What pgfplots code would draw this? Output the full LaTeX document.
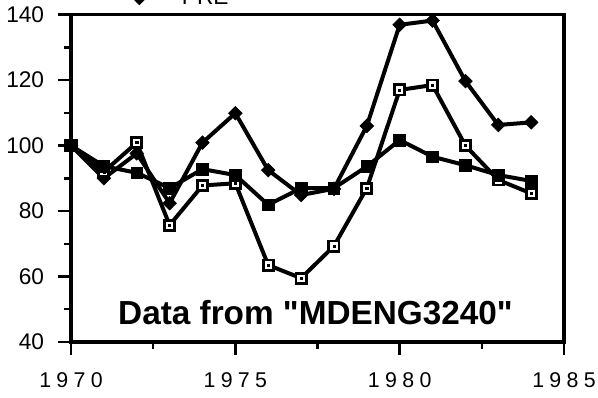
\documentclass[border=0pt]{standalone}
\usepackage{fontspec}
\setmainfont{Liberation Sans}
\usepackage{pgfplots}
\pgfplotsset{compat=1.18}
\begin{document}
\begin{tikzpicture}
\begin{axis}[
  at={(53.25pt,42pt)}, anchor=south west,
  scale only axis, width=369.75pt, height=245.5pt,
  xmin=1970, xmax=1985, ymin=40, ymax=140,
  xtick={1970,1975,1980,1985},
  xticklabels={1\hspace{4pt}9\hspace{4pt}7\hspace{4pt}0,1\hspace{4pt}9\hspace{4pt}7\hspace{4pt}5,1\hspace{4pt}9\hspace{4pt}8\hspace{4pt}0,1\hspace{4pt}9\hspace{4pt}8\hspace{4pt}5},
  minor xtick={1972.5,1977.5,1982.5},
  ytick={40,60,...,140}, minor ytick={50,70,...,130},
  xtick pos=left, ytick pos=left,
  tick align=outside,
  major tick length=10pt, minor tick length=5pt,
  tick style={black, line width=1.8pt},
  axis line style={line width=2.6pt},
  /pgf/number format/assume math mode=true,
  yticklabel style={font=\fontsize{17}{20}\selectfont, anchor=east, inner sep=0pt, xshift=-10pt},
  xticklabel style={font=\fontsize{16}{19}\selectfont, anchor=north, inner sep=0pt, yshift=-13pt},
  legend style={at={(axis description cs:0.1034,1)}, anchor=west, yshift=12.5pt, draw=none, fill=none, inner sep=0pt, font=\fontsize{17}{20}\selectfont, nodes={inner sep=0pt}, /tikz/every odd column/.append style={column sep=19pt}},
  legend image code/.code={\draw[mark repeat=2,mark phase=2] plot coordinates {(0cm,0cm)(0.4cm,0cm)(0.8cm,0cm)};},
  clip=false,
]
% PRE (diamond)
\addplot[black, line width=3pt, mark=square*, mark size=3.6pt, mark options={rotate=45, line width=0.5pt}] coordinates {
(1970,100) (1971,90) (1972,97.6) (1973,82.4) (1974,100.9) (1975,109.9) (1976,92.5) (1977,84.9) (1978,86.8) (1979,106) (1980,136.9) (1981,138.2) (1982,119.7) (1983,106.3) (1984,107.1)};
\addlegendentry{PRE}
% open squares
\addplot[black, line width=3pt, mark=square*, mark size=3.8pt, mark options={fill=white, draw=black, line width=2.2pt}, forget plot] coordinates {
(1970,100) (1971,92) (1972,100.9) (1973,75.7) (1974,87.8) (1975,88.5) (1976,63.5) (1977,59.5) (1978,69.3) (1979,87) (1980,117) (1981,118.5) (1982,100) (1983,89.5) (1984,85.4)};
\addplot[only marks, mark=square*, mark size=0.8pt, black, forget plot] coordinates {
(1970,100) (1971,92) (1972,100.9) (1973,75.7) (1974,87.8) (1975,88.5) (1976,63.5) (1977,59.5) (1978,69.3) (1979,87) (1980,117) (1981,118.5) (1982,100) (1983,89.5) (1984,85.4)};
% filled squares
\addplot[black, line width=3pt, mark=square*, mark size=4.4pt, mark options={line width=0.5pt}, forget plot] coordinates {
(1970,100) (1971,93.7) (1972,91.7) (1973,87) (1974,92.8) (1975,91) (1976,81.9) (1977,87) (1978,87) (1979,93.6) (1980,101.7) (1981,96.6) (1982,94) (1983,91) (1984,89.2)};
\node[anchor=base, font=\fontsize{25}{30}\selectfont\bfseries, inner sep=0pt] at (axis description cs:0.496,0.052) {Data from \textquotedbl MDENG3240\textquotedbl};
\end{axis}
\pgfresetboundingbox
\useasboundingbox (0,0) rectangle (448.5pt,298.5pt);
\end{tikzpicture}
\end{document}
